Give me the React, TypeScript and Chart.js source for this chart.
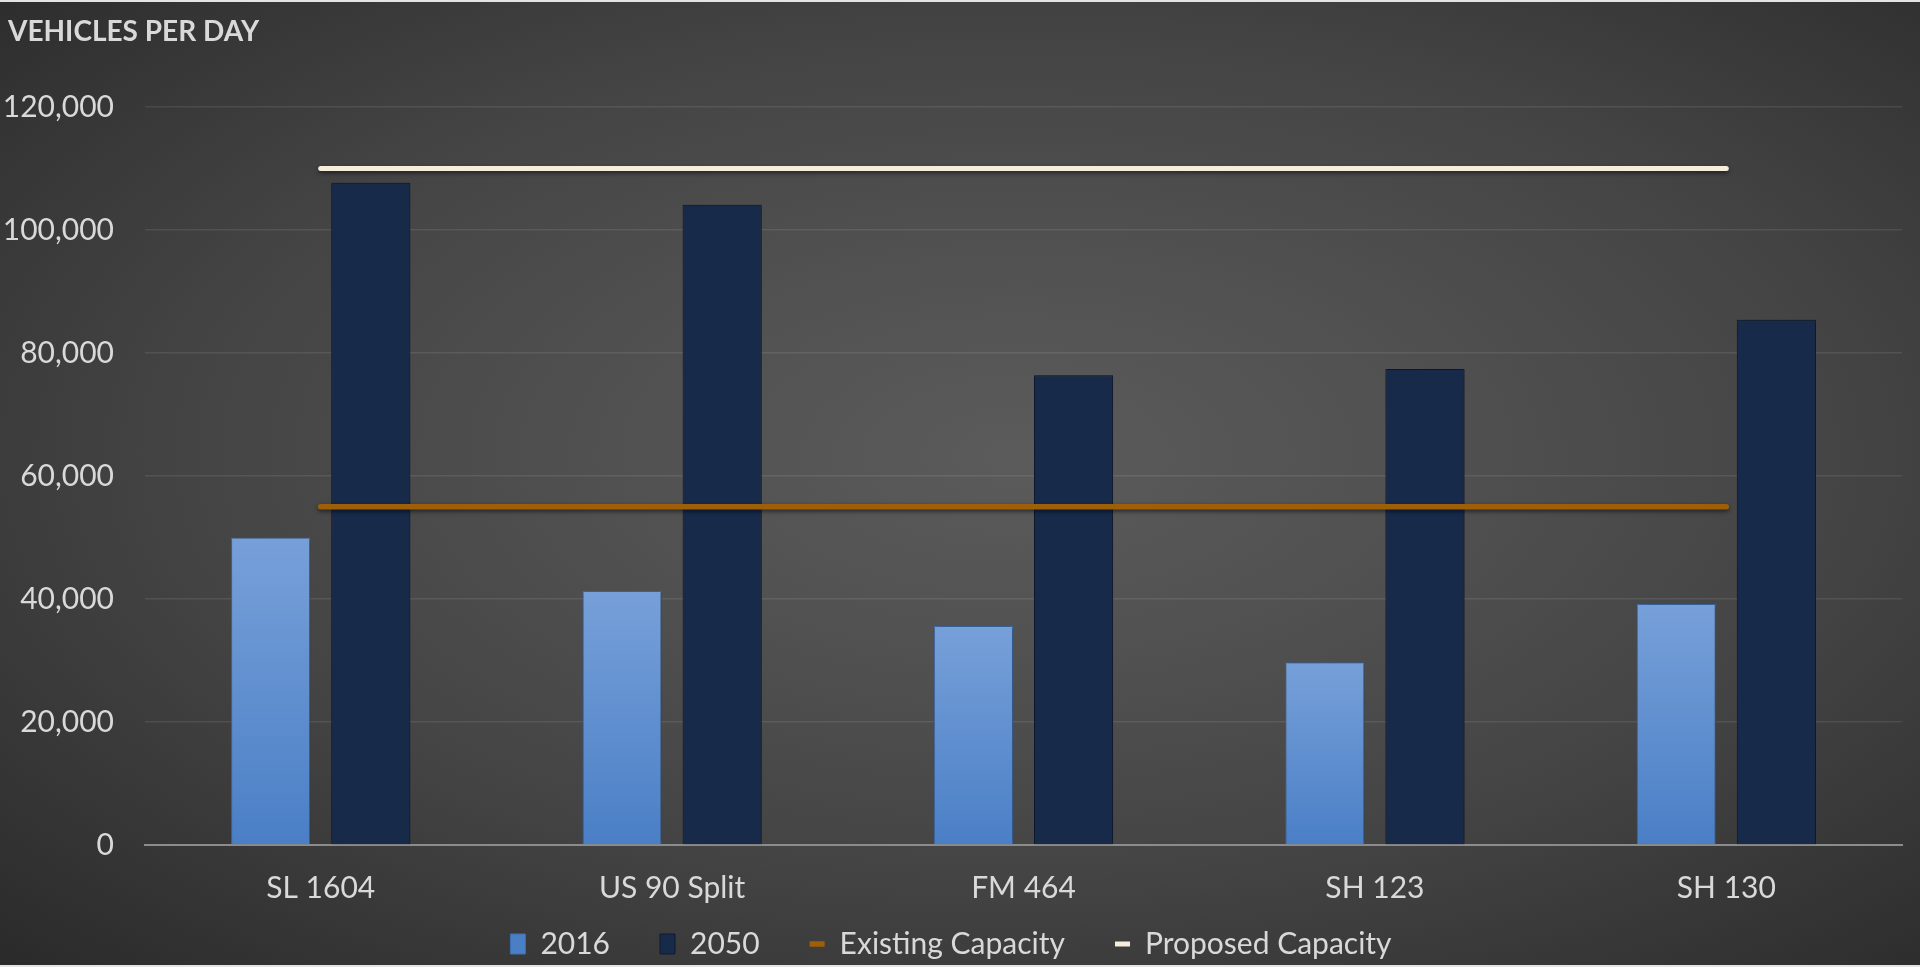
import React, { useEffect, useRef } from 'react';
import { Chart, registerables } from 'chart.js';

Chart.register(...registerables);

const categories = ['SL 1604', 'US 90 Split', 'FM 464', 'SH 123', 'SH 130'];
const values2016 = [50000, 41300, 35600, 29700, 39200];
const values2050 = [107700, 104100, 76400, 77400, 85400];
const existingCapacity = [55000, 55000, 55000, 55000, 55000];
const proposedCapacity = [110000, 110000, 110000, 110000, 110000];
const seriesNames = ['2016', '2050', 'Existing Capacity', 'Proposed Capacity'];
const yMin = 0;
const yMax = 120000;
const yStep = 20000;
const yTitle = 'VEHICLES PER DAY';

const FONT = 'Lato, "Open Sans", sans-serif';
const TEXT = '#d9d9d9';

const bar2016Fill = (c: any) => {
  const chart = c.chart;
  const ys = chart.scales && chart.scales.y;
  if (!ys || c.raw == null) return '#5b8bd0';
  const top = ys.getPixelForValue(c.raw);
  const bottom = ys.getPixelForValue(0);
  if (!isFinite(top) || !isFinite(bottom) || top === bottom) return '#5b8bd0';
  const g = chart.ctx.createLinearGradient(0, top, 0, bottom);
  g.addColorStop(0, '#77a0d9');
  g.addColorStop(1, '#4a7fc6');
  return g;
};

const shadowPlugin = {
  id: 'dsShadow',
  beforeDatasetDraw(chart: any, args: any) {
    const ctx = chart.ctx;
    ctx.save();
    const ds = chart.data.datasets[args.index];
    if (ds.type === 'line') {
      ctx.shadowColor = 'rgba(0,0,0,0.55)';
      ctx.shadowBlur = 4;
      ctx.shadowOffsetY = 2;
    } else {
      ctx.shadowColor = 'rgba(0,0,0,0.4)';
      ctx.shadowBlur = 5;
      ctx.shadowOffsetX = 1;
    }
  },
  afterDatasetDraw(chart: any) {
    chart.ctx.restore();
  },
};

// Axis title drawn in the top-left corner, like the original's horizontal value-axis title.
const axisTitlePlugin = {
  id: 'axisTitle',
  afterDraw(chart: any) {
    const ctx = chart.ctx;
    ctx.save();
    ctx.font = `bold 28px ${FONT}`;
    ctx.fillStyle = TEXT;
    ctx.textAlign = 'left';
    ctx.textBaseline = 'middle';
    ctx.fillText(yTitle, 8, 32);
    ctx.restore();
  },
};

// Let the category labels use the space below the axis box (they are clipped to it otherwise).
const labelRoomPlugin = {
  id: 'labelRoom',
  afterLayout(chart: any) {
    const x = chart.scales.x;
    if (x) {
      x.bottom = chart.height;
      x.height = x.bottom - x.top;
    }
  },
};

export default function App() {
  const ref = useRef<HTMLCanvasElement>(null);

  useEffect(() => {
    let chart: Chart | null = null;
    let cancelled = false;
    document.body.style.margin = '0';

    const make = () => {
      if (cancelled || !ref.current) return;
      chart = new Chart(ref.current, {
        type: 'bar',
        data: {
          labels: categories,
          datasets: [
            {
              type: 'bar',
              label: seriesNames[0],
              data: values2016,
              backgroundColor: bar2016Fill,
              borderColor: '#3f6fb0',
              borderWidth: 1,
              pointStyle: 'rect',
              order: 1,
              categoryPercentage: 0.57,
              barPercentage: 0.79,
            } as any,
            {
              type: 'bar',
              label: seriesNames[1],
              data: values2050,
              backgroundColor: '#172a4a',
              borderColor: '#0e1b31',
              borderWidth: 1,
              pointStyle: 'rect',
              order: 1,
              categoryPercentage: 0.57,
              barPercentage: 0.79,
            } as any,
            {
              type: 'line',
              label: seriesNames[2],
              data: existingCapacity,
              borderColor: '#9f5f08',
              backgroundColor: '#9f5f08',
              borderWidth: 5.5,
              borderCapStyle: 'round',
              pointRadius: 0,
              pointHoverRadius: 0,
              pointStyle: 'line',
              fill: false,
              order: 0,
            } as any,
            {
              type: 'line',
              label: seriesNames[3],
              data: proposedCapacity,
              borderColor: '#f6eddc',
              backgroundColor: '#f6eddc',
              borderWidth: 5,
              borderCapStyle: 'round',
              pointRadius: 0,
              pointHoverRadius: 0,
              pointStyle: 'line',
              fill: false,
              order: 0,
            } as any,
          ],
        },
        options: {
          responsive: false,
          animation: false,
          devicePixelRatio: 1,
          layout: { padding: { left: 0, right: 18, top: 107, bottom: -2 } },
          scales: {
            x: {
              grid: { display: false, drawTicks: false },
              border: { display: true, color: '#8c8c8c', width: 2 },
              ticks: {
                color: TEXT,
                font: { family: FONT, size: 30 },
                padding: 25,
                maxRotation: 0,
                autoSkip: false,
              },
              afterFit: (axis: any) => {
                axis.height = 34;
              },
            },
            y: {
              min: yMin,
              max: yMax,
              ticks: {
                stepSize: yStep,
                color: TEXT,
                font: { family: FONT, size: 30 },
                padding: 31,
                callback: (v: any) => Number(v).toLocaleString('en-US'),
              },
              grid: { color: 'rgba(255,255,255,0.09)', lineWidth: 1.5, drawTicks: false },
              border: { display: false },
              afterFit: (axis: any) => {
                axis.width = 145;
              },
            },
          },
          plugins: {
            title: { display: false },
            legend: {
              display: true,
              position: 'bottom',
              labels: {
                color: TEXT,
                font: { family: FONT, size: 30 },
                usePointStyle: true,
                pointStyleWidth: 15,
                boxHeight: 20,
                padding: 50,
                sort: (a: any, b: any) => a.datasetIndex - b.datasetIndex,
              },
            },
            tooltip: { enabled: false },
          },
        } as any,
        plugins: [shadowPlugin as any, axisTitlePlugin as any, labelRoomPlugin as any],
      });
    };

    const fonts: any = (document as any).fonts;
    const loads = fonts
      ? Promise.all([fonts.load('30px Lato'), fonts.load('bold 28px Lato')])
      : Promise.resolve();
    loads.catch(() => {}).then(make);

    return () => {
      cancelled = true;
      if (chart) chart.destroy();
    };
  }, []);

  return (
    <div
      style={{
        position: 'relative',
        width: 1920,
        height: 967,
        overflow: 'hidden',
        background:
          'radial-gradient(ellipse farthest-corner at 53% 47%, #5b5b5b 0%, #515151 28%, #444444 58%, #2a2a2a 100%)',
        boxShadow: 'inset 0 2px 0 #e4e4e4, inset 0 -2px 0 #e4e4e4',
      }}
    >
      <canvas
        ref={ref}
        width={1920}
        height={967}
        style={{ position: 'absolute', left: 0, top: 0, width: 1920, height: 967 }}
      />
    </div>
  );
}
